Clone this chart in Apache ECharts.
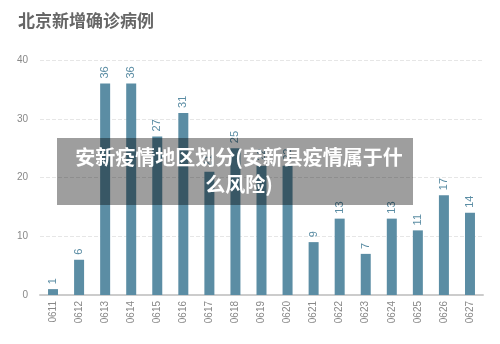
<!DOCTYPE html>
<html><head><meta charset="utf-8">
<script src="https://cdn.jsdelivr.net/npm/echarts@6/dist/echarts.min.js"></script>
<style>html,body{margin:0;padding:0;background:#fff}#c{width:500px;height:344px}</style>
</head><body><div id="c"></div>
<script>
const categories = ['0611','0612','0613','0614','0615','0616','0617','0618','0619','0620','0621','0622','0623','0624','0625','0626','0627'];
const values = [1,6,36,36,27,31,21,25,22,22,9,13,7,13,11,17,14];
const yTicks = [0,10,20,30,40];
const titleText = '北京新增确诊病例';
const overlayLines = ['安新疫情地区划分(安新县疫情属于什', '么风险)'];

const chart = echarts.init(document.getElementById('c'));
chart.setOption({
  animation: false,
  title: {text: titleText, left: 13, top: 7, textStyle: {fontSize: 17, fontWeight: 'bold', color: '#666', fontFamily: 'Noto Sans CJK SC'}},
  grid: {left: 40, right: 17, top: 60, bottom: 49},
  xAxis: {
    type: 'category', data: categories,
    axisLine: {lineStyle: {color: '#ccc', width: 2}},
    axisTick: {show: false},
    axisLabel: {rotate: 90, color: '#888', fontSize: 10, margin: 6, fontFamily: 'Liberation Sans'}
  },
  yAxis: {
    type: 'value', min: yTicks[0], max: yTicks[yTicks.length-1], interval: 10,
    axisLine: {show: false}, axisTick: {show: false},
    axisLabel: {color: '#888', fontSize: 10, margin: 12, fontFamily: 'Liberation Sans'},
    splitLine: {lineStyle: {color: '#e6e6e6', type: 'dashed'}}
  },
  series: [{
    type: 'bar', data: values, barWidth: 10,
    itemStyle: {color: '#5b8da4'},
    label: {show: true, position: 'top', rotate: 90, align: 'left', verticalAlign: 'middle', distance: 5, color: '#5b8da4', fontSize: 11, fontFamily: 'Liberation Sans'}
  }],
  graphic: [
    {type: 'rect', shape: {x: 57, y: 138, width: 356, height: 67}, style: {fill: 'rgba(0,0,0,0.38)'}, z: 100},
    {type: 'text', x: 239, y: 157, z: 101, style: {text: overlayLines[0], fill: '#fff', font: 'bold 20px "Noto Sans CJK SC"', align: 'center', verticalAlign: 'middle'}},
    {type: 'text', x: 239, y: 184, z: 101, style: {text: overlayLines[1], fill: '#fff', font: 'bold 20px "Noto Sans CJK SC"', align: 'center', verticalAlign: 'middle'}}
  ]
});
</script></body></html>
